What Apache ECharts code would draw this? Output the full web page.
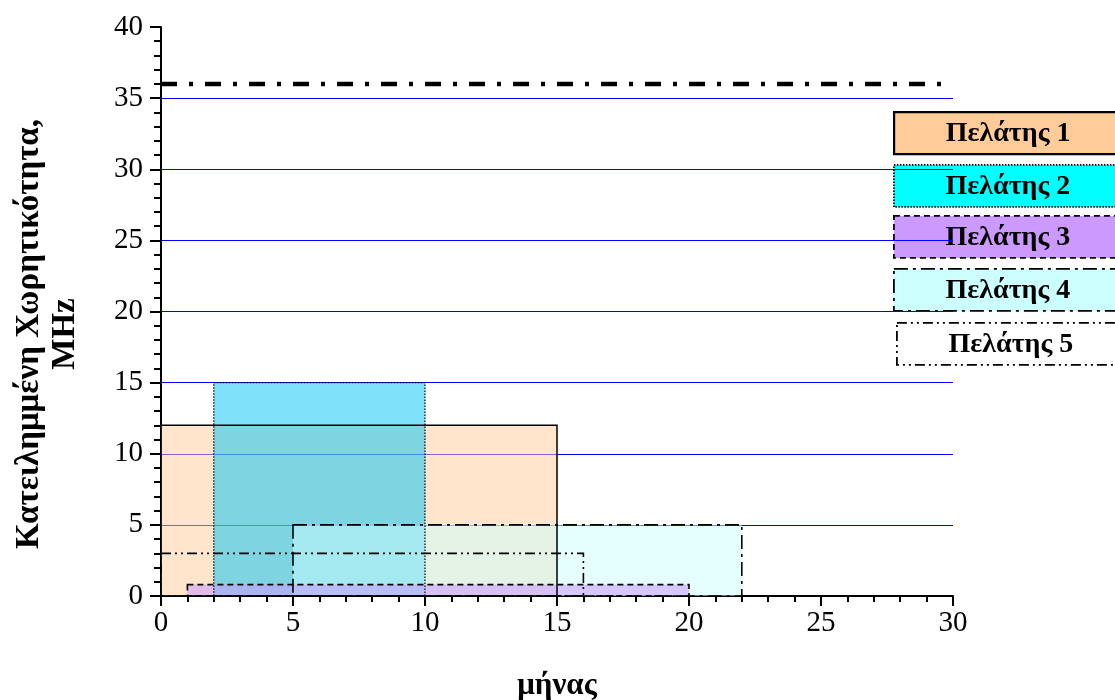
<!DOCTYPE html>
<html>
<head>
<meta charset="utf-8">
<script src="https://cdn.jsdelivr.net/npm/echarts@6/dist/echarts.min.js"></script>
<style>
  html, body { margin: 0; padding: 0; background: #fff; }
  #chart { width: 1115px; height: 700px; }
</style>
</head>
<body>
<div id="chart"></div>
<script>
// Occupied bandwidth per client over the months
const clients = ['Πελάτης 1', 'Πελάτης 2', 'Πελάτης 3', 'Πελάτης 4', 'Πελάτης 5'];
const startMonth = [0, 2, 1, 5, 0];
const endMonth = [15, 10, 20, 22, 16];
const bandwidthMHz = [12, 15, 0.8, 5, 3];
const capacityLimit = 36;
const monthRange = [0, 30];
const mhzRange = [0, 40];

// Look of each client: legend fill, plot fill, stacking order and border dash
const legendFill = ['#FFCC99', '#00FFFF', '#CC99FF', '#CCFFFF', '#FFFFFF'];
const plotFill = [
  'rgba(255,204,153,0.5)',
  'rgba(0,195,245,0.5)',
  'rgba(204,153,255,0.55)',
  'rgba(204,255,255,0.5)',
  'rgba(255,255,255,0)'
];
const fillOrder = [2, 3, 5, 4, 6];
const borderDash = [null, [1.5, 1.5], [6, 4], [14, 5, 3, 5], [10, 4, 2, 4, 2, 4]];
const borderWidth = [1.5, 1.2, 1.6, 1.6, 1.6];

const serif = '"Liberation Serif", "DejaVu Serif", serif';

const chart = echarts.init(document.getElementById('chart'));

// One rectangle per client, spanning its months and its bandwidth
function bandRect(i, withFill) {
  return function (params, api) {
    const p0 = api.coord([api.value(0), 0]);
    const p1 = api.coord([api.value(1), api.value(2)]);
    return {
      type: 'rect',
      shape: { x: p0[0], y: p1[1], width: p1[0] - p0[0], height: p0[1] - p1[1] },
      style: withFill
        ? { fill: plotFill[i], stroke: null }
        : { fill: null, stroke: '#000', lineWidth: borderWidth[i], lineDash: borderDash[i] }
    };
  };
}

const fillSeries = clients.map((name, i) => ({
  name: name,
  type: 'custom',
  z: fillOrder[i],
  data: [[startMonth[i], endMonth[i], bandwidthMHz[i]]],
  renderItem: bandRect(i, true)
}));

const outlineSeries = clients.map((name, i) => ({
  name: name + ' outline',
  type: 'custom',
  z: 8,
  data: [[startMonth[i], endMonth[i], bandwidthMHz[i]]],
  renderItem: bandRect(i, false)
}));

// Legend boxes drawn as framed labels at the right edge
const legendTop = [111, 164, 215, 268, 322];
const legendGraphics = clients.map((name, i) => ({
  type: 'group',
  left: i === 4 ? 896 : 893,
  top: legendTop[i],
  children: [
    {
      type: 'rect',
      shape: { x: 0, y: 0, width: 240, height: 42 },
      style: {
        fill: legendFill[i],
        stroke: '#000',
        lineWidth: i === 0 ? 2.2 : 1.8,
        lineDash: borderDash[i]
      }
    },
    {
      type: 'text',
      x: 114,
      y: 22,
      style: {
        text: name,
        font: 'bold 28px ' + serif,
        fill: '#000',
        textAlign: 'center',
        textVerticalAlign: 'middle'
      }
    }
  ]
}));

const option = {
  animation: false,
  backgroundColor: '#fff',
  grid: { left: 161, right: 162, top: 27, bottom: 104, outerBoundsMode: 'none', containLabel: false },
  xAxis: {
    type: 'value',
    min: monthRange[0],
    max: monthRange[1],
    interval: 5,
    axisLine: { show: true, onZero: false, lineStyle: { color: '#000', width: 2 } },
    axisTick: { show: true, inside: false, length: 10, lineStyle: { color: '#000', width: 2 } },
    minorTick: { show: true, splitNumber: 5, length: 6, lineStyle: { color: '#000', width: 2 } },
    axisLabel: { fontFamily: serif, fontSize: 29, color: '#000', margin: 13 },
    splitLine: { show: false }
  },
  yAxis: {
    type: 'value',
    min: mhzRange[0],
    max: mhzRange[1],
    interval: 5,
    axisLine: { show: true, onZero: false, lineStyle: { color: '#000', width: 2 } },
    axisTick: { show: true, inside: false, length: 11, lineStyle: { color: '#000', width: 2 } },
    minorTick: { show: true, splitNumber: 5, length: 7, lineStyle: { color: '#000', width: 2 } },
    axisLabel: { fontFamily: serif, fontSize: 29, color: '#000', margin: 18 },
    splitLine: {
      show: true,
      showMinLine: false,
      showMaxLine: false,
      lineStyle: { color: '#0000FF', width: 1 }
    }
  },
  graphic: [
    {
      type: 'text',
      x: 47,
      y: 334,
      rotation: Math.PI / 2,
      style: {
        text: 'Κατειλημμένη Χωρητικότητα,\nMHz',
        font: 'bold 33px ' + serif,
        fill: '#000',
        textAlign: 'center',
        textVerticalAlign: 'middle',
        lineHeight: 36
      }
    },
    {
      type: 'text',
      x: 557,
      y: 686,
      style: {
        text: 'μήνας',
        font: 'bold 31px ' + serif,
        fill: '#000',
        textAlign: 'center',
        textVerticalAlign: 'middle'
      }
    }
  ].concat(legendGraphics),
  series: fillSeries.concat(outlineSeries, [
    {
      name: 'capacity',
      type: 'line',
      z: 10,
      symbol: 'none',
      data: [[monthRange[0], capacityLimit], [monthRange[1], capacityLimit]],
      lineStyle: { color: '#000', width: 4.5, type: [16, 12, 4, 12] }
    }
  ])
};

chart.setOption(option);
</script>
</body>
</html>
